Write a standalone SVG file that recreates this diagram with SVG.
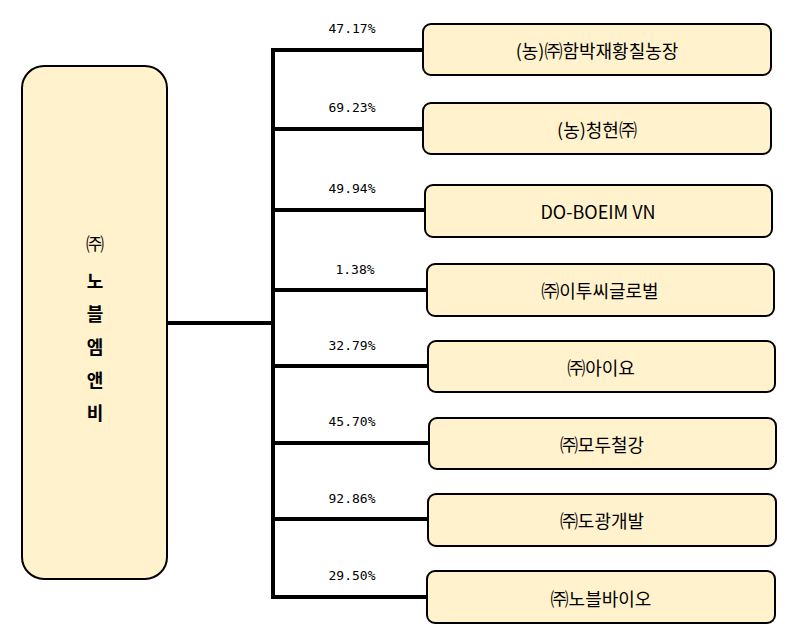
<svg xmlns="http://www.w3.org/2000/svg" width="790" height="633" viewBox="0 0 790 633">
<style>
.box{fill:#FFF2CC;stroke:#000;stroke-width:2}
.t{font-family:"Noto Sans CJK KR","Noto Sans",sans-serif;font-size:18px;text-anchor:middle;dominant-baseline:central;fill:#000}
.p{font-family:"DejaVu Sans Mono","Liberation Mono",monospace;font-size:13px;text-anchor:middle;fill:#000}
.c{stroke:#000;stroke-width:4;fill:none}
</style>
<rect width="790" height="633" fill="#fff"/>
<g id="connectors">
<path class="c" d="M167 323H273M273 48V599"/>
<path class="c" d="M271 50H423M271 129H423M271 210H425M271 290H427M271 366H428M271 443H429M271 519H428M271 597H427"/>
</g>
<g id="main"><rect class="box" x="22" y="66" width="145" height="513" rx="22"/>
<text class="t" x="95" y="243" font-size="22">㈜</text>
<text class="t" x="95" y="280" font-size="25" font-weight="bold">노</text>
<text class="t" x="95" y="313" font-size="25" font-weight="bold">블</text>
<text class="t" x="95" y="346" font-size="25" font-weight="bold">엠</text>
<text class="t" x="95" y="379" font-size="25" font-weight="bold">앤</text>
<text class="t" x="95" y="412" font-size="25" font-weight="bold">비</text></g>
<g id="n1"><rect class="box" x="423" y="24" width="348" height="51" rx="8"/><text class="t" x="597" y="50">(농)㈜함박재황칠농장</text><text class="p" x="352" y="33">47.17%</text></g>
<g id="n2"><rect class="box" x="423" y="103" width="348" height="51" rx="8"/><text class="t" x="597" y="129">(농)청현㈜</text><text class="p" x="352" y="112">69.23%</text></g>
<g id="n3"><rect class="box" x="425" y="185" width="347" height="52" rx="8"/><text class="t" x="598" y="211">DO-BOEIM VN</text><text class="p" x="352" y="193">49.94%</text></g>
<g id="n4"><rect class="box" x="427" y="264" width="347" height="52" rx="8"/><text class="t" x="600" y="290">㈜이투씨글로벌</text><text class="p" x="355" y="274">1.38%</text></g>
<g id="n5"><rect class="box" x="428" y="341" width="347" height="51" rx="8"/><text class="t" x="601" y="367">㈜아이요</text><text class="p" x="352" y="350">32.79%</text></g>
<g id="n6"><rect class="box" x="429" y="418" width="347" height="51" rx="8"/><text class="t" x="602" y="444">㈜모두철강</text><text class="p" x="352" y="426">45.70%</text></g>
<g id="n7"><rect class="box" x="428" y="494" width="348" height="52" rx="8"/><text class="t" x="602" y="520">㈜도광개발</text><text class="p" x="352" y="503">92.86%</text></g>
<g id="n8"><rect class="box" x="427" y="571" width="348" height="52" rx="8"/><text class="t" x="601" y="598">㈜노블바이오</text><text class="p" x="352" y="580">29.50%</text></g>
</svg>
